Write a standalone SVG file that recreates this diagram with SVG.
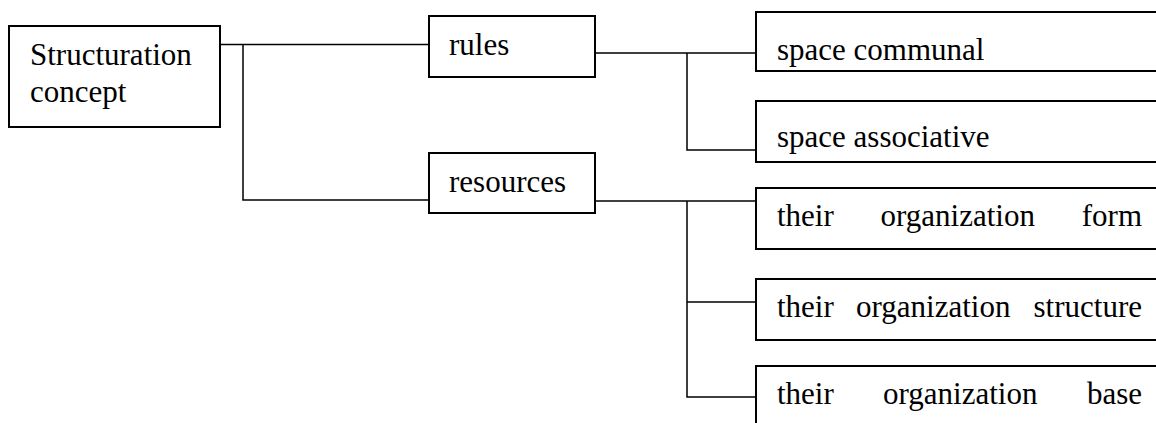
<svg xmlns="http://www.w3.org/2000/svg" width="1156" height="423" viewBox="0 0 1156 423">
  <style>
    .box { fill: #ffffff; stroke: #000000; stroke-width: 2; }
    .lbl { font-family: 'Liberation Serif', 'DejaVu Serif', serif; font-size: 31px; fill: #000000; }
    .wire { fill: none; stroke: #000000; stroke-width: 1.5; }
  </style>
  <rect width="1156" height="423" fill="#ffffff"/>

  <!-- connectors -->
  <g id="connectors">
    <path class="wire" d="M220,44.5 H429 M243,44.5 V200 H429"/>
    <path class="wire" d="M595,53 H756 M687,53 V150 H756"/>
    <path class="wire" d="M595,201 H756 M687,201 V397 H756 M687,302 H756"/>
  </g>

  <!-- root -->
  <g id="structuration">
    <rect class="box" x="9" y="26" width="211" height="101"/>
    <text class="lbl" font-family="Liberation Serif, serif" x="30" y="65">Structuration</text>
    <text class="lbl" font-family="Liberation Serif, serif" x="30" y="102">concept</text>
  </g>

  <!-- second level -->
  <g id="rules">
    <rect class="box" x="429" y="16" width="166" height="61"/>
    <text class="lbl" x="449" y="55">rules</text>
  </g>
  <g id="resources">
    <rect class="box" x="429" y="153" width="166" height="60"/>
    <text class="lbl" x="449" y="192">resources</text>
  </g>

  <!-- third level (boxes run past the right edge) -->
  <g id="space-communal">
    <rect class="box" x="756" y="12" width="420" height="59"/>
    <text class="lbl" x="777" y="60">space communal</text>
  </g>
  <g id="space-associative">
    <rect class="box" x="756" y="101" width="420" height="61"/>
    <text class="lbl" x="777" y="147">space associative</text>
  </g>
  <g id="organization-form">
    <rect class="box" x="756" y="188" width="420" height="61"/>
    <text class="lbl" y="226"><tspan x="777">their</tspan><tspan x="880.5">organization</tspan><tspan x="1142" text-anchor="end">form</tspan></text>
  </g>
  <g id="organization-structure">
    <rect class="box" x="756" y="279" width="420" height="61"/>
    <text class="lbl" y="317"><tspan x="777">their</tspan><tspan x="856">organization</tspan><tspan x="1142" text-anchor="end">structure</tspan></text>
  </g>
  <g id="organization-base">
    <rect class="box" x="756" y="366" width="420" height="61"/>
    <text class="lbl" y="404"><tspan x="777">their</tspan><tspan x="883">organization</tspan><tspan x="1142" text-anchor="end">base</tspan></text>
  </g>
</svg>
